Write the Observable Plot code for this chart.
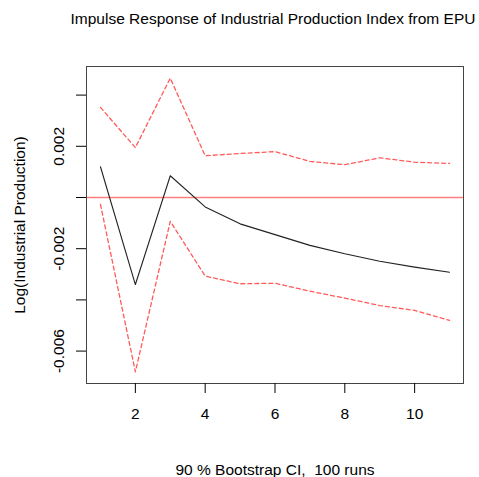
<!DOCTYPE html>
<html>
<head>
<meta charset="utf-8">
<script src="https://cdn.jsdelivr.net/npm/d3@7"></script>
<script src="https://cdn.jsdelivr.net/npm/@observablehq/plot@0.6"></script>
<style>
  html, body { margin: 0; padding: 0; background: #fff; }
</style>
</head>
<body>
<div id="chart"></div>
<script>
const steps = [1, 2, 3, 4, 5, 6, 7, 8, 9, 10, 11];
const irf   = [0.00120, -0.00340, 0.00085, -0.00037, -0.00103, -0.00145, -0.00187, -0.00220, -0.00249, -0.00272, -0.00292];
const upper = [0.00352, 0.00195, 0.00466, 0.00163, 0.00172, 0.00179, 0.00141, 0.00128, 0.00155, 0.00138, 0.00133];
const lower = [-0.00027, -0.00681, -0.00093, -0.00307, -0.00337, -0.00335, -0.00366, -0.00393, -0.00422, -0.00441, -0.00480];
const xTicks = [2, 4, 6, 8, 10];
const yTicks = [0.004, 0.002, 0, -0.002, -0.004, -0.006];
const yTickLabels = [0.002, -0.002, -0.006];
const titleText = "Impulse Response of Industrial Production Index from EPU";
const xLabel = "90 % Bootstrap CI,  100 runs";
const yLabel = "Log(Industrial Production)";

const rows = steps.map((s, i) => ({step: s, irf: irf[i], upper: upper[i], lower: lower[i]}));
const fmt = d => d === 0 ? "0" : d.toFixed(3);

const chart = Plot.plot({
  width: 479,
  height: 477,
  marginLeft: 86,
  marginRight: 16,
  marginTop: 66,
  marginBottom: 94,
  style: {fontFamily: "'Liberation Sans', Arial, Helvetica, sans-serif", fontSize: "15.5px", color: "#000", background: "#fff"},
  x: {domain: [0.6, 11.4]},
  y: {domain: [-0.007266, 0.005117]},
  marks: [
    Plot.ruleY([0], {stroke: "#ff0000", strokeOpacity: 0.5, strokeWidth: 1.5}),
    Plot.line(rows, {x: "step", y: "upper", stroke: "#ff0000", strokeOpacity: 0.65, strokeWidth: 1.3, strokeDasharray: "4,3"}),
    Plot.line(rows, {x: "step", y: "lower", stroke: "#ff0000", strokeOpacity: 0.65, strokeWidth: 1.3, strokeDasharray: "4,3"}),
    Plot.line(rows, {x: "step", y: "irf", stroke: "#222", strokeWidth: 1.1}),
    Plot.frame({stroke: "#444"}),
    Plot.axisX({ticks: xTicks, tickSize: 10, tickPadding: 14, label: null, tickFormat: d => String(d), fontSize: 15.5}),
    Plot.axisY({ticks: yTicks, tickSize: 10, label: null, tickFormat: () => ""}),
    Plot.text(yTickLabels, {y: d => d, text: fmt, frameAnchor: "left", textAnchor: "middle", lineAnchor: "middle", dx: -27, rotate: -90, fontSize: 15.5}),
    Plot.text([titleText], {text: d => d, frameAnchor: "top", textAnchor: "middle", lineAnchor: "middle", dy: -47, dx: -2, fontSize: 15.5}),
    Plot.text([xLabel], {text: d => d, frameAnchor: "bottom", textAnchor: "middle", lineAnchor: "middle", dy: 87, fontSize: 15.5}),
    Plot.text([yLabel], {text: d => d, frameAnchor: "left", textAnchor: "middle", lineAnchor: "middle", dx: -66, rotate: -90, fontSize: 15.5})
  ]
});
document.getElementById("chart").appendChild(chart);
</script>
</body>
</html>
